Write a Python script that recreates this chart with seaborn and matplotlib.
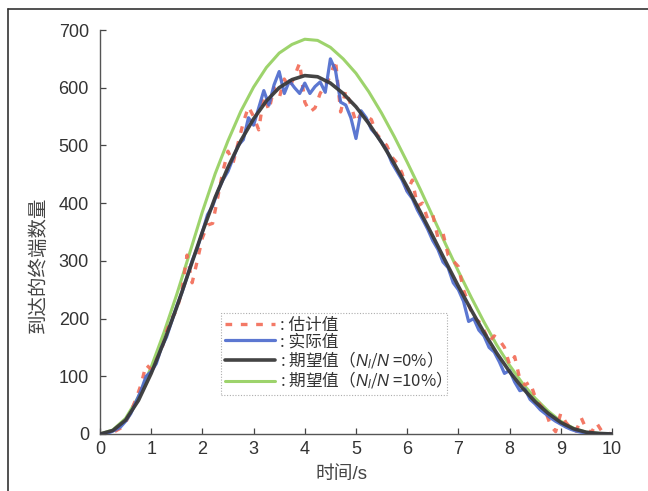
import numpy as np
import pandas as pd
import matplotlib
matplotlib.use("Agg")
import matplotlib.pyplot as plt
from matplotlib.lines import Line2D
import seaborn as sns

# Smooth expected curves, sampled every 0.25 s
t_smooth = [0, 0.25, 0.5, 0.75, 1.0, 1.25, 1.5, 1.75, 2.0, 2.25, 2.5, 2.75, 3.0, 3.25,
            3.5, 3.75, 4.0, 4.25, 4.5, 4.75, 5.0, 5.25, 5.5, 5.75, 6.0, 6.25, 6.5, 6.75,
            7.0, 7.25, 7.5, 7.75, 8.0, 8.25, 8.5, 8.75, 9.0, 9.25, 9.5, 9.75, 10.0]
expected_0 = [0, 6, 24, 58, 105, 160, 220, 285, 350, 410, 462, 508, 546, 577,
              600, 614, 621, 619, 608, 590, 567, 538, 505, 468, 428, 386, 343, 299,
              256, 215, 176, 140, 108, 80, 56, 36, 20, 9, 3, 1, 0]
expected_10 = [0, 7, 27, 64, 116, 176, 242, 313, 385, 451, 508, 559, 601, 635,
               660, 675, 684, 682, 670, 650, 625, 593, 556, 515, 471, 425, 377, 329,
               282, 237, 194, 154, 119, 88, 62, 40, 22, 10, 3, 1, 0]

# Measured and estimated counts, sampled every 0.1 s
t_fine = [round(0.1 * i, 1) for i in range(101)]
actual = [0, 1, 3, 7, 12, 22, 35, 55, 75, 100,
          108, 122, 150, 168, 195, 222, 245, 272, 300, 322,
          350, 380, 395, 420, 440, 455, 478, 500, 510, 548,
          535, 565, 595, 570, 605, 628, 590, 612, 600, 590,
          608, 590, 602, 610, 592, 650, 630, 575, 570, 548,
          512, 560, 548, 528, 518, 505, 492, 470, 455, 440,
          420, 408, 388, 372, 355, 335, 320, 298, 288, 262,
          250, 230, 195, 200, 180, 170, 150, 142, 125, 105,
          110, 90, 75, 78, 60, 52, 42, 35, 28, 22,
          17, 12, 8, 5, 3, 2, 1, 0, 0, 0, 0]
estimate = [0, 0, 2, 5, 10, 20, 38, 60, 85, 120,
            112, 128, 145, 178, 200, 215, 248, 310, 262, 300,
            340, 362, 365, 410, 455, 490, 470, 505, 540, 567,
            550, 527, 585, 561, 600, 582, 615, 600, 620, 643,
            575, 558, 565, 590, 605, 620, 648, 558, 595, 570,
            540, 555, 550, 545, 520, 510, 500, 480, 470, 452,
            420, 440, 395, 400, 372, 380, 340, 348, 310, 300,
            290, 250, 225, 200, 195, 180, 160, 170, 163, 150,
            120, 134, 95, 85, 90, 64, 50, 40, 15, 4,
            36, 20, 10, 5, 28, 8, 3, 19, 5, 2, 0]

labels = [": 估计值", ": 实际值", ": 期望值（$N_l$/$N$ =0%）", ": 期望值（$N_l$/$N$ =10%）"]
colors = ["#f26a55", "#4a68cc", "#3a3a3a", "#93cf5c"]
dash = (0, (2.0, 2.6))

sns.set_style("ticks")
plt.rcParams["font.family"] = ["Liberation Sans", "Noto Sans CJK SC", "DejaVu Sans"]
plt.rcParams["mathtext.fontset"] = "custom"
plt.rcParams["mathtext.rm"] = "Noto Sans CJK SC"
plt.rcParams["mathtext.it"] = "Liberation Sans:italic"
plt.rcParams["axes.unicode_minus"] = False

fig = plt.figure(figsize=(6.48, 4.91), dpi=100)
ax = fig.add_axes([0.1543, 0.1161, 0.7901, 0.8228])

fine = pd.DataFrame({"t": t_fine, "actual": actual, "estimate": estimate})
smooth = pd.DataFrame({"t": t_smooth, "e0": expected_0, "e10": expected_10})

sns.lineplot(data=smooth, x="t", y="e10", ax=ax, color=colors[3], lw=2.2,
             alpha=0.9, label=labels[3], zorder=2)
sns.lineplot(data=fine, x="t", y="estimate", ax=ax, color=colors[0], lw=2.4,
             alpha=0.9, label=labels[0], zorder=3)
ax.lines[-1].set_linestyle(dash)
sns.lineplot(data=fine, x="t", y="actual", ax=ax, color=colors[1], lw=2.3,
             alpha=0.9, label=labels[1], zorder=4)
sns.lineplot(data=smooth, x="t", y="e0", ax=ax, color=colors[2], lw=2.6,
             alpha=0.95, label=labels[2], zorder=5)

ax.set_xlim(0, 10)
ax.set_ylim(0, 700)
ax.set_xticks(range(0, 11))
ax.set_yticks(range(0, 701, 100))
ax.tick_params(direction="in", length=4, width=0.9, colors="#444444",
               labelsize=13, labelcolor="#333333")
ax.tick_params(axis="x", pad=5)
ax.tick_params(axis="y", pad=8)
for side in ("top", "right"):
    ax.spines[side].set_visible(False)
for side in ("left", "bottom"):
    ax.spines[side].set_color("#555555")
    ax.spines[side].set_linewidth(1.0)

ax.set_xlabel("")
ax.set_ylabel("")
fig.text(341 / 648, 1 - 475 / 491, "时间/s", fontsize=13.5, color="#444444",
         ha="center", va="center")
fig.text(39 / 648, 1 - 265 / 491, "到达的终端数量", fontsize=14, color="#444444",
         ha="center", va="center", rotation=90)

handles, labs = ax.get_legend_handles_labels()
order = [labs.index(l) for l in labels]
leg = ax.legend([handles[i] for i in order], [labs[i] for i in order],
                loc="upper left", bbox_to_anchor=(0.236, 0.30), borderaxespad=0,
                prop={"family": ["Noto Sans CJK SC"], "size": 12},
                handlelength=3.0, handletextpad=0.3,
                labelspacing=-0.05, borderpad=0.25, fancybox=False,
                frameon=True, labelcolor="#333333")
leg.get_frame().set_edgecolor("#999999")
leg.get_frame().set_linestyle((0, (1, 1.5)))
leg.get_frame().set_linewidth(0.8)
leg.get_lines()[0].set_linestyle(dash)

# Page frame on the left and top
fig.add_artist(Line2D([8 / 648, 8 / 648], [0, 1 - 9 / 491], transform=fig.transFigure,
                      color="#333333", lw=1.2))
fig.add_artist(Line2D([8 / 648, 1], [1 - 9 / 491, 1 - 9 / 491], transform=fig.transFigure,
                      color="#333333", lw=1.2))

fig.savefig("out.png", dpi=100)
